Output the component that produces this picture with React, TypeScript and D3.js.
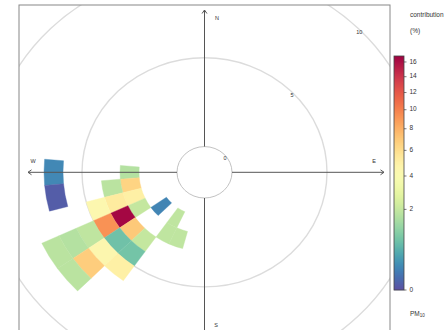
import React from 'react';
import * as d3 from 'd3';

// wind direction sector centre (deg), wind-speed bin (lower edge), contribution (%)
const cellDirection = [270, 270, 260, 260, 260, 250, 250, 250, 240, 240, 240, 240, 240, 240, 230, 230, 230, 230, 230, 230, 220, 220, 220, 210, 210, 200];
const cellSpeedBin = [2, 6, 2, 3, 6, 2, 3, 4, 2, 3, 4, 5, 6, 7, 1, 3, 4, 5, 6, 7, 3, 4, 5, 1, 2, 2];
const cellContribution = [1.7, 0.17, 6.5, 1.8, 0.01, 5.0, 5.3, 4.4, 2.0, 16.5, 9.3, 1.9, 1.7, 1.8, 0.15, 7.0, 0.75, 4.5, 6.8, 1.8, 2.0, 0.8, 5.0, 1.9, 1.9, 1.9];
const speedGrid = [0, 5, 10];
const legendTicks = [0, 2, 4, 6, 8, 10, 12, 14, 16];
const legendMax = 16.85;

const W = 444, H = 330;
const cx = 204.5, cy = 172.3, ky = 0.935;
const box = { x0: 19, y0: 5, x1: 390, y1: 340 };
const font = "'Liberation Sans', Arial, sans-serif";

export default function App() {
  const r = d3.scaleLinear().domain([0, 10]).range([27.5, 217.5]);
  const colT = d3.scaleSqrt().domain([0, legendMax]).range([0, 1]).clamp(true);
  const colour = (v: number) => d3.interpolateSpectral(1 - colT(v));
  const arc = d3.arc<any>();
  const legY = d3.scaleSqrt().domain([0, legendMax]).range([290, 56]);

  const cells = cellDirection.map((d, i) => {
    const b = cellSpeedBin[i];
    const path = arc({
      innerRadius: r(b),
      outerRadius: r(b + 1),
      startAngle: ((d - 5) * Math.PI) / 180,
      endAngle: ((d + 5) * Math.PI) / 180,
    }) as string;
    return <path key={i} d={path} fill={colour(cellContribution[i])} stroke={colour(cellContribution[i])} strokeWidth={0.4} />;
  });

  const legendSteps = d3.range(0, 234, 1);
  const innerR = r(0);
  const axisCol = '#555';
  const a = 3.5;

  return (
    <svg width={W} height={H} style={{ position: 'absolute', left: 0, top: 0, background: '#fff' }} fontFamily={font}>
      <defs>
        <clipPath id="plotclip">
          <rect x={box.x0} y={box.y0} width={box.x1 - box.x0} height={box.y1 - box.y0} />
        </clipPath>
      </defs>
      <g clipPath="url(#plotclip)">
        {speedGrid.map((s) => (
          <ellipse key={s} cx={cx} cy={cy} rx={r(s)} ry={r(s) * ky} fill="none" stroke={s === 0 ? '#bbb' : '#dcdcdc'} strokeWidth={s === 0 ? 0.9 : 1.4} />
        ))}
        <g transform={`translate(${cx},${cy}) scale(1,${ky})`}>{cells}</g>
        <g stroke={axisCol} strokeWidth={1} fill="none">
          <line x1={28} y1={cy} x2={cx - innerR} y2={cy} />
          <line x1={cx + innerR} y1={cy} x2={384} y2={cy} />
          <line x1={cx} y1={10} x2={cx} y2={cy - innerR * ky} />
          <line x1={cx} y1={cy + innerR * ky} x2={cx} y2={340} />
          <path d={`M${28 + a},${cy - a * 0.7} L28,${cy} L${28 + a},${cy + a * 0.7}`} />
          <path d={`M${384 - a},${cy - a * 0.7} L384,${cy} L${384 - a},${cy + a * 0.7}`} />
          <path d={`M${cx - a * 0.7},${10 + a} L${cx},10 L${cx + a * 0.7},${10 + a}`} />
        </g>
        <g fontSize={5.5} fill="#333" textAnchor="middle" dominantBaseline="middle">
          <text x={217} y={19}>N</text>
          <text x={374} y={162}>E</text>
          <text x={33} y={162}>W</text>
          <text x={216} y={326}>S</text>
          {speedGrid.map((s) => (
            <text key={s} x={cx + r(s) * Math.SQRT1_2 + 1} y={cy - r(s) * Math.SQRT1_2 * ky + 4}>{s}</text>
          ))}
        </g>
      </g>
      <rect x={box.x0} y={box.y0} width={box.x1 - box.x0} height={box.y1 - box.y0} fill="none" stroke="#888" strokeWidth={1} />
      <g>
        {legendSteps.map((k) => {
          const y = 290 - k;
          const v = legY.invert(y - 0.5);
          return <rect key={k} x={394} y={y - 1} width={10} height={1.2} fill={colour(v)} />;
        })}
        <rect x={394} y={56} width={10} height={234} fill="none" stroke="#444" strokeWidth={0.8} />
        {legendTicks.map((t) => (
          <g key={t}>
            <line x1={404} x2={406.5} y1={legY(t)} y2={legY(t)} stroke="#444" strokeWidth={0.7} />
            <text x={409.5} y={legY(t)} fontSize={6.5} fill="#333" dominantBaseline="middle">{t}</text>
          </g>
        ))}
        <text x={410} y={15} fontSize={6.5} fill="#333" dominantBaseline="middle">contribution</text>
        <text x={410} y={31} fontSize={6.5} fill="#333" dominantBaseline="middle">(%)</text>
        <text x={410} y={314} fontSize={6.5} fill="#333" dominantBaseline="middle">
          PM<tspan fontSize={4.5} dy={1.5}>10</tspan>
        </text>
      </g>
    </svg>
  );
}
